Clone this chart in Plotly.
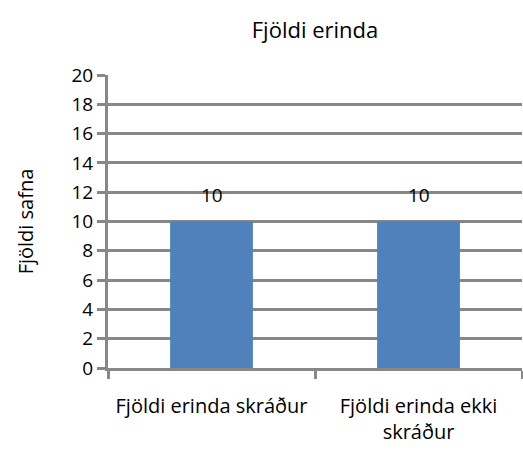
import plotly.graph_objects as go

categories = ["Fjöldi erinda skráður", "Fjöldi erinda ekki<br>skráður"]
values = [10, 10]
y_ticks = [0, 2, 4, 6, 8, 10, 12, 14, 16, 18, 20]

FONT = "'Open Sans', Lato, sans-serif"
GRID = "#878787"
FS = 19

fig = go.Figure()
fig.add_trace(go.Bar(
    x=categories, y=values,
    marker=dict(color="#4F81BD", line=dict(width=0)),
    width=0.4,
    hoverinfo="skip",
))
for c, v in zip(categories, values):
    fig.add_annotation(x=c, y=v, text=str(v), showarrow=False,
                       yanchor="bottom", yshift=12,
                       font=dict(family=FONT, size=FS, color="#000"))

fig.update_layout(
    width=523, height=450,
    margin=dict(l=108, r=1, t=75, b=82, autoexpand=False),
    paper_bgcolor="white", plot_bgcolor="white",
    showlegend=False,
    font=dict(family=FONT, size=FS, color="#000"),
    title=dict(text="Fjöldi erinda", x=0.5, xref="paper", y=1 - 30 / 450, yref="container",
               yanchor="middle",
               font=dict(family=FONT, size=22, color="#000")),
    bargap=0.6,
)
fig.update_yaxes(
    range=[0, 20], tickvals=y_ticks, ticktext=[str(t) for t in y_ticks],
    showgrid=True, gridcolor=GRID, gridwidth=3,
    showline=True, linecolor=GRID, linewidth=3,
    ticks="outside", ticklen=8, tickwidth=3, tickcolor=GRID,
    zeroline=False, automargin=False,
    tickfont=dict(family=FONT, size=FS, color="#000"),
    title=dict(text="Fjöldi safna", standoff=33, font=dict(family=FONT, size=20, color="#000")),
)
fig.update_xaxes(
    showgrid=False, showline=True, linecolor=GRID, linewidth=3,
    ticks="outside", tickson="boundaries", ticklen=8, tickwidth=3, tickcolor=GRID,
    automargin=False, ticklabelstandoff=18,
    tickfont=dict(family=FONT, size=20, color="#000"),
)

fig.write_html(
    "out.html",
    config={"displayModeBar": False},
    post_script="document.body.style.margin='0';document.body.style.overflow='hidden';",
)
